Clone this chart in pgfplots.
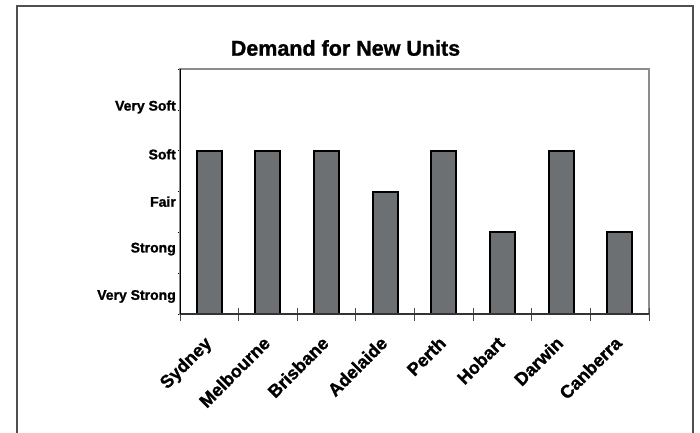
\documentclass[border=0pt]{standalone}
\usepackage{fontspec}
\setmainfont{Liberation Sans}[BoldFeatures={FakeBold=1.2}]
\usepackage{pgfplots}
\pgfplotsset{compat=1.18}
\definecolor{barfill}{RGB}{109,112,114}
\definecolor{framegray}{RGB}{80,80,80}
\definecolor{axgray}{RGB}{140,140,140}
\begin{document}
\begin{tikzpicture}
\path[use as bounding box] (0pt,0pt) rectangle (700pt,432pt);
\draw[framegray, line width=1.1pt] (17pt,-5pt) rectangle (693pt,426pt);
\node[font=\fontsize{21.5}{24}\selectfont\bfseries] at (345.5pt,384pt) {Demand for New Units};
\begin{axis}[
  at={(180pt,118pt)}, anchor=south west,
  scale only axis, width=469pt, height=245pt,
  xmin=0.5, xmax=8.5, ymin=0, ymax=6,
  axis line style={axgray, line width=1.2pt},
  xtick pos=bottom, ytick pos=left,
  xtick={1,2,3,4,5,6,7,8},
  xticklabels={Sydney,Melbourne,Brisbane,Adelaide,Perth,Hobart,Darwin,Canberra},
  major tick length=0pt,
  xticklabel style={font=\fontsize{18}{20}\selectfont\bfseries, inner sep=0pt, xshift=-6pt, yshift=-21pt, rotate=45, anchor=north east},
  extra x ticks={0.5,1.5,2.5,3.5,4.5,5.5,6.5,7.5,8.5},
  extra x tick labels={},
  extra x tick style={tick align=center, major tick length=13pt, tick style={black!70, line width=1pt}},
  ytick={0.43,1.59,2.75,3.91,5.07},
  yticklabels={Very Strong,Strong,Fair,Soft,Very Soft},
  yticklabel style={font=\fontsize{14}{16}\selectfont\bfseries, inner sep=0pt, xshift=-4pt},
  minor ytick={0,1,2,3,4,5,6},
  minor tick length=2pt,
  ytick align=outside,
  minor y tick style={black, line width=0.6pt},
  clip=false,
]
\addplot[ybar, bar width=25pt, fill=barfill, draw=black, line width=2pt]
  coordinates {(1,4) (2,4) (3,4) (4,3) (5,4) (6,2) (7,4) (8,2)};
\draw[black!80, line width=1.2pt] (rel axis cs:0,0) -- (rel axis cs:1,0);
\draw[black, line width=0.7pt] (rel axis cs:0,0) -- (rel axis cs:0,1);
\end{axis}
\end{tikzpicture}
\end{document}
